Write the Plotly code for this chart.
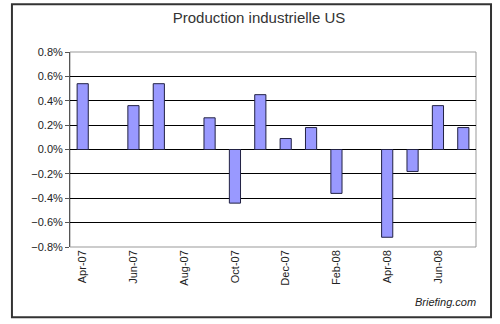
import plotly.graph_objects as go

months = ["Apr-07", "May-07", "Jun-07", "Jul-07", "Aug-07", "Sep-07", "Oct-07", "Nov-07",
          "Dec-07", "Jan-08", "Feb-08", "Mar-08", "Apr-08", "May-08", "Jun-08", "Jul-08"]
values_pct = [0.54, None, 0.36, 0.54, None, 0.26, -0.44, 0.45,
              0.09, 0.18, -0.36, None, -0.72, -0.18, 0.36, 0.18]
tick_labels = ["Apr-07", "Jun-07", "Aug-07", "Oct-07", "Dec-07", "Feb-08", "Apr-08", "Jun-08"]
y_ticks_pct = [-0.8, -0.6, -0.4, -0.2, 0.0, 0.2, 0.4, 0.6, 0.8]

yvals = [v / 100 if v is not None else None for v in values_pct]

fig = go.Figure()
fig.add_trace(go.Bar(
    x=months, y=yvals,
    marker=dict(color="#9999FF", line=dict(color="#222244", width=1)),
))

fig.update_layout(
    width=500, height=324,
    margin=dict(l=70, r=24, t=52, b=77),
    paper_bgcolor="white", plot_bgcolor="white",
    showlegend=False,
    bargap=0.56,
    font=dict(family="Arial, Liberation Sans, sans-serif", size=11, color="#222222"),
    title=dict(text="Production industrielle US", x=0.518, xanchor="center",
               y=0.945, yanchor="middle",
               font=dict(size=15, color="#333333")),
    shapes=[
        dict(type="rect", xref="paper", yref="paper", x0=-0.143, x1=1.037, y0=-0.36, y1=1.245,
             line=dict(color="#333333", width=2), layer="below"),
        dict(type="rect", xref="paper", yref="paper", x0=0, x1=1, y0=0, y1=1,
             line=dict(color="#999999", width=1), layer="below"),
    ],
    annotations=[
        dict(text="<i>Briefing.com</i>", xref="paper", yref="paper", x=1.005, y=-0.28,
             xanchor="right", yanchor="middle", showarrow=False,
             font=dict(size=11, color="#222222")),
    ],
)

fig.update_xaxes(
    type="category", categoryorder="array", categoryarray=months,
    tickmode="array", tickvals=tick_labels, ticktext=tick_labels,
    tickangle=-90, showgrid=False, showline=False, ticks="",
)
fig.update_yaxes(
    range=[-0.008, 0.008], tickmode="array", tickvals=[v / 100 for v in y_ticks_pct],
    tickformat=".1%", showgrid=True, gridcolor="#000000", gridwidth=1,
    zeroline=True, zerolinecolor="#000000", zerolinewidth=1,
    showline=True, linecolor="#555555", linewidth=1,
    ticks="outside", ticklen=4, tickcolor="#555555",
)

fig.write_html("out.html")
